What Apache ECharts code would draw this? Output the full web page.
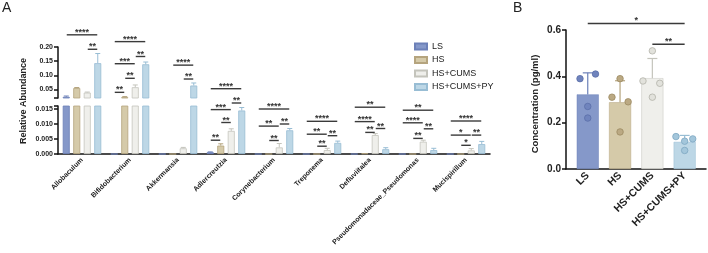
<!DOCTYPE html>
<html><head><meta charset="utf-8">
<script src="https://cdn.jsdelivr.net/npm/echarts@6/dist/echarts.min.js"></script>
<style>html,body{margin:0;padding:0;background:#fff}#c{width:708px;height:253px}</style>
</head><body><div id="c"></div>
<script>
// ---------- Panel A data ----------
const categories = ['Allobaculum','Bifidobacterium','Akkermansia','Adlercreutzia','Corynebacterium','Treponema','Defluviitalea','Pseudomonadaceae_Pseudomonas','Mucispirillum'];
const groups = ['LS','HS','HS+CUMS','HS+CUMS+PY'];
const lsMean   = [0.024, 0, 0, 0.0006, 0, 0, 0, 0, 0];
const lsSd     = [0.003, 0, 0, 0.0001, 0, 0, 0, 0, 0];
const hsMean   = [0.055, 0.023, 0, 0.0028, 0, 0, 0.0002, 0, 0];
const hsSd     = [0.002, 0.002, 0, 0.0006, 0, 0, 0, 0, 0];
const cumsMean = [0.039, 0.058, 0.0019, 0.0077, 0.0022, 0.0013, 0.0063, 0.0041, 0.0012];
const cumsSd   = [0.002, 0.008, 0.0003, 0.0007, 0.0013, 0.0006, 0.0005, 0.0005, 0.0006];
const pyMean   = [0.143, 0.139, 0.064, 0.0145, 0.0079, 0.0037, 0.0016, 0.0013, 0.0033];
const pySd     = [0.034, 0.008, 0.009, 0.0010, 0.0006, 0.0006, 0.0005, 0.0006, 0.0009];
const upperTickLabels = [0.05, 0.10, 0.15, 0.20];
const lowerTickLabels = [0.000, 0.005, 0.010, 0.015];
// [category, fromGroup, toGroup, level, label]
const bracketsUpper = [
  [0,0,3,0.243,'****'],[0,2,3,0.192,'**'],
  [1,0,3,0.219,'****'],[1,0,2,0.141,'***'],[1,2,3,0.1665,'**'],[1,1,2,0.0895,'**'],[1,0,1,0.040,'**'],
  [2,1,3,0.136,'****'],[2,2,3,0.087,'**'],
  [3,0,3,0.0528,'****']
];
const bracketsLower = [
  [3,0,2,0.0148,'***'],[3,2,3,0.0170,'**'],[3,1,2,0.0105,'**'],[3,0,1,0.0046,'**'],
  [4,0,3,0.0150,'****'],[4,0,2,0.0093,'**'],[4,2,3,0.0100,'**'],[4,1,2,0.0045,'**'],
  [5,0,3,0.0109,'****'],[5,0,2,0.0066,'**'],[5,2,3,0.0061,'**'],[5,1,2,0.0026,'**'],
  [6,0,3,0.0156,'**'],[6,0,2,0.0108,'****'],[6,2,3,0.0085,'**'],[6,1,2,0.0072,'**'],
  [7,0,3,0.0146,'**'],[7,0,2,0.0104,'****'],[7,2,3,0.0084,'**'],[7,1,2,0.0052,'**'],
  [8,0,3,0.0110,'****'],[8,0,2,0.0063,'*'],[8,2,3,0.0063,'**'],[8,1,2,0.0029,'*']
];
// ---------- Panel B data ----------
const groupsB = ['LS','HS','HS+CUMS','HS+CUMS+PY'];
const meanB = [0.322, 0.288, 0.392, 0.117];
const sdB   = [0.093, 0.093, 0.085, 0.028];
const pointsLS   = [0.39, 0.41, 0.27, 0.22];
const pointsHS   = [0.31, 0.39, 0.29, 0.16];
const pointsCUMS = [0.38, 0.51, 0.37, 0.31];
const pointsPY   = [0.14, 0.13, 0.12, 0.08];
const ticksB = [0.0, 0.2, 0.4, 0.6];
// [fromGroup, toGroup, level, label]
const bracketsB = [[0,3,0.628,'*'],[2,3,0.538,'**']];

// ---------- styling / layout ----------
const FONT = '"Liberation Sans", Arial, sans-serif';
const fill   = ['#8598c9','#d5caa9','#efefeb','#bdd7e6'];
const border = ['#6c80b8','#b5a47e','#c4c4bc','#98bdd4'];
const dotFill = ['#7084bd','#bba983','#e2e2dc','#a3c6db'];
const dotBorder = ['#5a6ea8','#9c8a62','#b2b2aa','#7ea7c1'];
const jitter = [[-0.24,0.24,0,0],[-0.25,0,0.25,0],[-0.29,0,0.23,0],[-0.27,0.25,0,0]];
const BW = 7, STEP = 10.5;
const AX = {lineStyle:{color:'#111', width:1.5}};

const means = [lsMean, hsMean, cumsMean, pyMean];
const sds = [lsSd, hsSd, cumsSd, pySd];
const errRows = [];
for (let g = 0; g < 4; g++) for (let c = 0; c < categories.length; c++) errRows.push([c, g, means[g][c], sds[g][c]]);

function errA(params, api) {
  const c = api.value(0), g = api.value(1), m = api.value(2), s = api.value(3);
  if (!(s > 0)) return;
  const cs = params.coordSys;
  const p0 = api.coord([c, m]), p1 = api.coord([c, m + s]);
  if (p1[1] < cs.y - 1 || p0[1] > cs.y + cs.height + 1) return;
  const x = p0[0] + (g - 1.5) * STEP;
  return {type:'group', children:[
    {type:'line', shape:{x1:x, y1:p0[1], x2:x, y2:p1[1]}, style:{stroke:border[g], lineWidth:1}},
    {type:'line', shape:{x1:x-2.5, y1:p1[1], x2:x+2.5, y2:p1[1]}, style:{stroke:border[g], lineWidth:1}}
  ]};
}
function starText(x, y, t, size) {
  return {type:'text', x:x, y:y, style:{text:t, fill:'#333', font:'bold ' + size + 'px ' + FONT,
    align:'center', verticalAlign:'middle', textAlign:'center', textVerticalAlign:'middle'}};
}
function brA(list) {
  return function(params, api) {
    const b = list[params.dataIndex];
    const p = api.coord([b[0], b[3]]);
    const x1 = p[0] + (b[1] - 1.5) * STEP + 0.5, x2 = p[0] + (b[2] - 1.5) * STEP - 0.5, y = p[1];
    return {type:'group', children:[
      {type:'line', shape:{x1:x1, y1:y, x2:x2, y2:y}, style:{stroke:'#3a3a3a', lineWidth:1.4}},
      starText((x1+x2)/2, y - 2.4, b[4], 9)
    ]};
  };
}
function errB(params, api) {
  const i = api.value(0), m = api.value(1), s = api.value(2);
  const p0 = api.coord([i, m]), p1 = api.coord([i, m + s]);
  return {type:'group', children:[
    {type:'line', shape:{x1:p0[0], y1:p0[1], x2:p0[0], y2:p1[1]}, style:{stroke:border[i], lineWidth:1.2}},
    {type:'line', shape:{x1:p0[0]-5, y1:p1[1], x2:p0[0]+5, y2:p1[1]}, style:{stroke:border[i], lineWidth:1.2}}
  ]};
}
function brB(params, api) {
  const b = bracketsB[params.dataIndex];
  const p1 = api.coord([b[0], b[2]]), p2 = api.coord([b[1], b[2]]);
  return {type:'group', children:[
    {type:'line', shape:{x1:p1[0], y1:p1[1], x2:p2[0], y2:p1[1]}, style:{stroke:'#3a3a3a', lineWidth:1.5}},
    starText((p1[0]+p2[0])/2, p1[1] - 3, b[3], 9)
  ]};
}

const series = [];
for (let g = 0; g < 4; g++) {
  for (let k = 0; k < 2; k++) {
    series.push({type:'bar', name:groups[g], xAxisIndex:k, yAxisIndex:k, data:means[g], barWidth:BW, barGap:'50%',
      itemStyle:{color:fill[g], borderColor:border[g], borderWidth:0.8}, silent:true, animation:false});
  }
}
for (let k = 0; k < 2; k++) {
  series.push({type:'custom', xAxisIndex:k, yAxisIndex:k, data:errRows, encode:{x:0, y:2}, renderItem:errA, silent:true, animation:false, z:3});
}
series.push({type:'custom', xAxisIndex:0, yAxisIndex:0, data:bracketsUpper.map(b => [b[0], b[3]]), encode:{x:0, y:1}, renderItem:brA(bracketsUpper), silent:true, animation:false, z:4});
series.push({type:'custom', xAxisIndex:1, yAxisIndex:1, data:bracketsLower.map(b => [b[0], b[3]]), encode:{x:0, y:1}, renderItem:brA(bracketsLower), silent:true, animation:false, z:4});
// Panel B
series.push({type:'bar', name:'B-bars', xAxisIndex:3, yAxisIndex:3, barWidth:22,
  data: meanB.map((v, i) => ({value:v, itemStyle:{color:fill[i], borderColor:border[i], borderWidth:0.5}})), silent:true, animation:false});
series.push({type:'custom', xAxisIndex:3, yAxisIndex:3, data:meanB.map((m, i) => [i, m, sdB[i]]), encode:{x:0, y:1}, renderItem:errB, silent:true, animation:false, z:3});
const pts = [pointsLS, pointsHS, pointsCUMS, pointsPY];
pts.forEach((arr, i) => {
  series.push({type:'scatter', name:'pts' + i, xAxisIndex:4, yAxisIndex:3, symbolSize:6.5,
    data: arr.map((v, j) => [i + jitter[i][j], v]),
    itemStyle:{color:dotFill[i], borderColor:dotBorder[i], borderWidth:0.8, opacity:1}, silent:true, animation:false, z:5});
});
series.push({type:'custom', xAxisIndex:3, yAxisIndex:3, data:bracketsB.map(b => [b[0], b[2]]), encode:{x:0, y:1}, renderItem:brB, silent:true, animation:false, z:4});

const labA = {fontFamily:FONT, fontWeight:'bold', color:'#222'};
const option = {
  animation:false,
  backgroundColor:'#fff',
  textStyle:{fontFamily:FONT},
  grid:[
    {left:58, top:47, width:432, height:51},
    {left:58, top:106, width:432, height:48},
    {left:566, top:30, width:140, height:139},
    {left:571.6, top:30, width:129.2, height:139}
  ],
  xAxis:[
    {type:'category', gridIndex:0, data:categories, show:false},
    {type:'category', gridIndex:1, data:categories, axisLine:AX,
      axisTick:{alignWithLabel:true, length:4, lineStyle:{color:'#111', width:1.5}},
      axisLabel:Object.assign({rotate:45, fontSize:7, margin:5, interval:0}, labA)},
    {type:'value', gridIndex:2, min:0, max:1, axisLine:Object.assign({show:true}, AX), axisTick:{show:false}, axisLabel:{show:false}, splitLine:{show:false}},
    {type:'category', gridIndex:3, data:groupsB, axisLine:{show:false},
      axisTick:{alignWithLabel:true, length:4, lineStyle:{color:'#111', width:1.5}},
      axisLabel:Object.assign({rotate:45, fontSize:10.5, margin:5, interval:0}, labA)},
    {type:'value', gridIndex:3, min:-0.5, max:3.5, show:false}
  ],
  yAxis:[
    {type:'value', gridIndex:0, min:0.02, max:0.20, splitLine:{show:false},
      axisLine:Object.assign({show:true}, AX),
      axisTick:{show:true, length:4, lineStyle:{color:'#111', width:1.5}, customValues:[0.02].concat(upperTickLabels)},
      axisLabel:Object.assign({fontSize:7, margin:5, customValues:upperTickLabels, formatter:v => v.toFixed(2)}, labA)},
    {type:'value', gridIndex:1, min:0, max:0.016, splitLine:{show:false},
      axisLine:Object.assign({show:true}, AX),
      axisTick:{show:true, length:4, lineStyle:{color:'#111', width:1.5}, customValues:lowerTickLabels.concat([0.016])},
      axisLabel:Object.assign({fontSize:7, margin:5, customValues:lowerTickLabels, formatter:v => v.toFixed(3)}, labA)},
    {type:'value', gridIndex:2, min:0, max:0.6, interval:0.2, splitLine:{show:false},
      axisLine:Object.assign({show:true}, AX),
      axisTick:{show:true, length:4, lineStyle:{color:'#111', width:1.5}},
      axisLabel:Object.assign({fontSize:10, margin:5, customValues:ticksB, formatter:v => v.toFixed(1)}, labA)},
    {type:'value', gridIndex:3, min:0, max:0.6, show:false}
  ],
  legend:{data:groups, orient:'vertical', left:409, top:37, itemWidth:12, itemHeight:6, itemGap:4.5, icon:'rect',
    textStyle:{fontSize:9, color:'#222', fontFamily:FONT, padding:[0,0,0,0]}, selectedMode:false},
  graphic:[
    {type:'text', left:2, top:1, style:{text:'A', font:'14px ' + FONT, fill:'#222'}},
    {type:'text', left:513, top:1, style:{text:'B', font:'14px ' + FONT, fill:'#222'}},
    {type:'text', x:24, y:101, rotation:Math.PI/2, style:{text:'Relative Abundance', font:'bold 9px ' + FONT, fill:'#222', align:'center', verticalAlign:'middle', textAlign:'center', textVerticalAlign:'middle'}},
    {type:'text', x:535, y:104, rotation:Math.PI/2, style:{text:'Concentration (pg/ml)', font:'bold 9.5px ' + FONT, fill:'#222', align:'center', verticalAlign:'middle', textAlign:'center', textVerticalAlign:'middle'}}
  ],
  series:series
};
const chart = echarts.init(document.getElementById('c'), null, {renderer:'canvas'});
chart.setOption(option);
</script>
</body></html>
